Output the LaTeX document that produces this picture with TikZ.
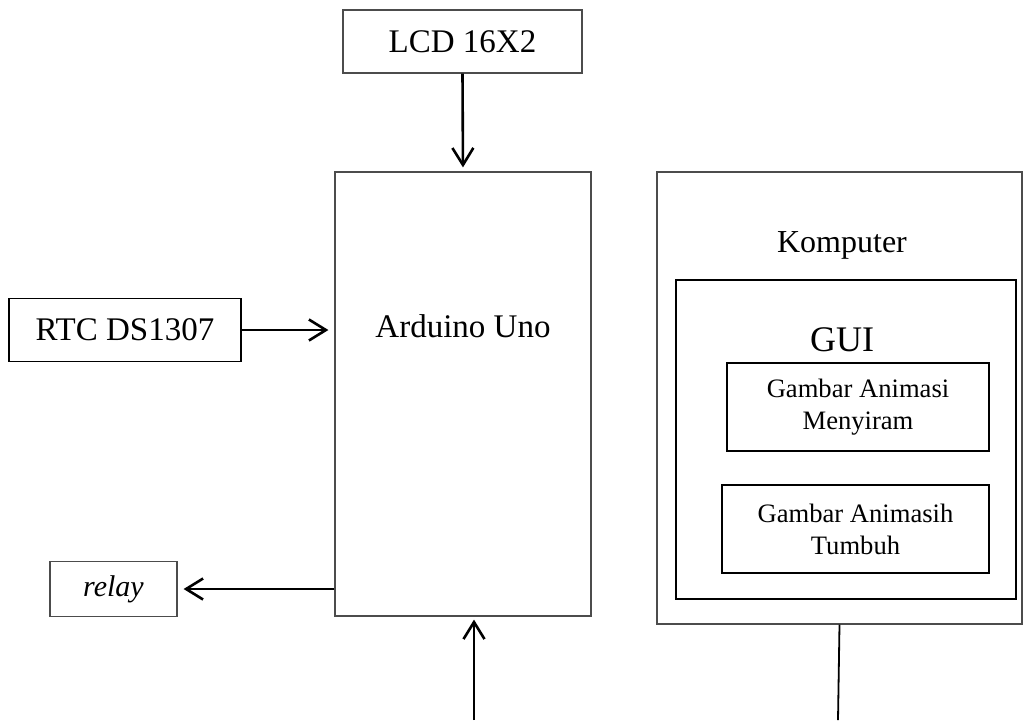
\documentclass[tikz,border=0pt]{standalone}
\usepackage{fontspec}
\setmainfont{Liberation Serif}
\usetikzlibrary{arrows.meta,positioning}
\tikzset{
  blok/.style={draw=black!70, line width=0.6pt, inner sep=0pt, anchor=center},
  isi/.style={draw=black, line width=1.1pt, inner sep=0pt, align=center,
    font=\fontsize{13.3}{16}\selectfont},
  panah/.style={line width=1.3pt, -{Straight Barb[length=8.5pt, width=10.5pt, line width=1.3pt]}}
}
\begin{document}
\begin{tikzpicture}[x=0.5pt, y=-0.5pt]
  \useasboundingbox (0,0) rectangle (1023,720);
  % blok utama
  \node[blok, minimum width=119.5pt, minimum height=31.5pt, font=\fontsize{16.5}{20}\selectfont] (lcd) at (462.5,41.5) {LCD 16X2};
  \node[blok, minimum width=128pt, minimum height=222pt] (ard) at (463,394) {};
  \node[font=\fontsize{16.5}{20}\selectfont] (ardtext) at (463,326) {Arduino Uno};
  \node[blok, draw=black, line width=0.9pt, minimum width=116pt, minimum height=31.5pt, font=\fontsize{16.5}{20}\selectfont] (rtc) at (125,330) {RTC DS1307};
  \node[blok, minimum width=63.5pt, minimum height=27.5pt, font=\fontsize{15}{18}\selectfont\itshape] (relay) at (113.5,589) {relay};
  % komputer
  \node[blok, minimum width=182.5pt, minimum height=226pt] (komp) at (839.5,398) {};
  \node[font=\fontsize{16}{20}\selectfont] (komptext) at (842,245) {Komputer};
  \node[blok, draw=black, minimum width=170pt, minimum height=159.5pt] (gui) at (846,439.5) {};
  \node[font=\fontsize{18}{22}\selectfont] (guitext) at (842,340) {GUI};
  \node[isi, minimum width=131pt, minimum height=44pt] (siram) at (858,407) {Gambar Animasi\\Menyiram};
  \node[isi, minimum width=133.5pt, minimum height=44pt] (tumbuh) at (855.5,529) {Gambar Animasih\\Tumbuh};
  % penghubung
  \coordinate (usb) at (474,720);
  \coordinate (kabel) at (838,720);
  \draw[panah, shorten >=2pt] (lcd.south) -- (ard.north);
  \draw[panah, shorten >=3pt] (rtc.east) -- (rtc -| ard.west);
  \draw[panah, shorten >=3pt] (ard.west |- relay) -- (relay.east);
  \draw[panah, shorten >=1.5pt] (usb) -- (usb |- ard.south);
  \draw[line width=0.9pt] (komp.south) -- (kabel);
\end{tikzpicture}
\end{document}
